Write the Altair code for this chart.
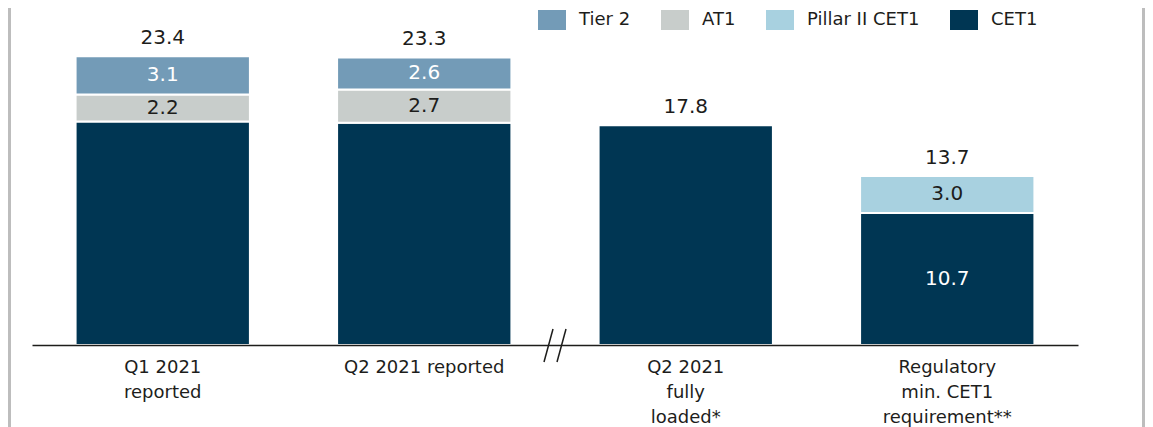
import altair as alt
import pandas as pd

# ---- data ----
categories = ["Q1 2021|reported", "Q2 2021 reported", "Q2 2021|fully|loaded*",
              "Regulatory|min. CET1|requirement**"]
series = ["Tier 2", "AT1", "Pillar II CET1", "CET1"]
colors = ["#739bb7", "#c8cdcb", "#a8d1e0", "#003653"]
cet1 = [18.1, 18.0, 17.8, 10.7]
at1 = [2.2, 2.7, None, None]
pillar2 = [None, None, None, 3.0]
tier2 = [3.1, 2.6, None, None]
totals = [23.4, 23.3, 17.8, 13.7]
cet1_labelled = [False, False, False, True]

FONT = "DejaVu Sans"
TXT = "#1d1d1b"

rows = []
for i, c in enumerate(categories):
    for s, vals, order in [("CET1", cet1, 0), ("AT1", at1, 1),
                           ("Pillar II CET1", pillar2, 1), ("Tier 2", tier2, 2)]:
        v = vals[i]
        if v is None:
            continue
        show = cet1_labelled[i] if s == "CET1" else True
        rows.append({"cat": c, "series": s, "value": v, "ord": order,
                     "label": f"{v:.1f}" if show else ""})
df = pd.DataFrame(rows)
tot = pd.DataFrame({"cat": categories, "total": totals,
                    "label": [f"{t:.1f}" for t in totals]})

x_enc = alt.X("cat:N", sort=categories,
              scale=alt.Scale(paddingInner=1/3, paddingOuter=1/6),
              axis=alt.Axis(title=None, labelExpr="split(datum.label, '|')",
                            labelAngle=0, ticks=False, grid=False,
                            domainColor=TXT, domainWidth=1.5, zindex=1,
                            labelFont=FONT, labelFontSize=18, labelColor=TXT,
                            labelPadding=13, labelLineHeight=25,
                            labelBaseline="top", labelLimit=300))
y_scale = alt.Scale(domain=[0, 27.3], nice=False, zero=True)

base = alt.Chart(df).transform_stack(
    stack="value", groupby=["cat"],
    sort=[alt.SortField("ord", order="ascending")], as_=["y0", "y1"]
)

bars = base.mark_bar(stroke="white", strokeWidth=2).encode(
    x=x_enc,
    y=alt.Y("y0:Q", scale=y_scale, axis=None),
    y2="y1:Q",
    color=alt.Color("series:N", scale=alt.Scale(domain=series, range=colors),
                    legend=alt.Legend(title=None, orient="none", legendX=510, legendY=2,
                                      direction="horizontal",
                                      symbolType="M-1.4,-1H1.4V1H-1.4Z",
                                      symbolSize=400, symbolStrokeWidth=0,
                                      symbolOpacity=1,
                                      labelFont=FONT, labelFontSize=18, labelColor=TXT,
                                      labelOffset=17, columnPadding=30, padding=0)),
)

seg_labels = base.transform_calculate(mid="(datum.y0 + datum.y1) / 2").mark_text(
    font=FONT, fontSize=20, baseline="middle", align="center"
).encode(
    x=alt.X("cat:N", sort=categories),
    y=alt.Y("mid:Q", scale=y_scale),
    text="label:N",
    color=alt.condition("datum.series == 'AT1' || datum.series == 'Pillar II CET1'",
                        alt.value(TXT), alt.value("white")),
)

total_labels = alt.Chart(tot).mark_text(
    font=FONT, fontSize=20, baseline="middle", align="center", dy=-18, color=TXT
).encode(
    x=alt.X("cat:N", sort=categories),
    y=alt.Y("total:Q", scale=y_scale),
    text="label:N",
)

deco = alt.Data(values=[{"k": 0}])
slash1 = alt.Chart(deco).mark_rule(color=TXT, strokeWidth=1.5).encode(
    x=alt.value(521), y=alt.value(321), x2=alt.value(512), y2=alt.value(354))
slash2 = alt.Chart(deco).mark_rule(color=TXT, strokeWidth=1.5).encode(
    x=alt.value(534), y=alt.value(321), x2=alt.value(525), y2=alt.value(354))
left_border = alt.Chart(deco).mark_rule(color="#bdbdbd", strokeWidth=3).encode(
    x=alt.value(-22.5), y=alt.value(-10), y2=alt.value(430))
right_border = alt.Chart(deco).mark_rule(color="#bdbdbd", strokeWidth=3).encode(
    x=alt.value(1111.5), y=alt.value(-10), y2=alt.value(430))

chart = alt.layer(
    bars, seg_labels, total_labels, slash1, slash2, left_border, right_border
).properties(
    width=1046, height=337,
    padding={"left": 24, "top": 0, "right": 67, "bottom": 82},
    autosize=alt.AutoSizeParams(type="none"),
).configure(background="white").configure_view(stroke=None)

chart.save("out.html", embed_options={"renderer": "svg", "actions": False})
